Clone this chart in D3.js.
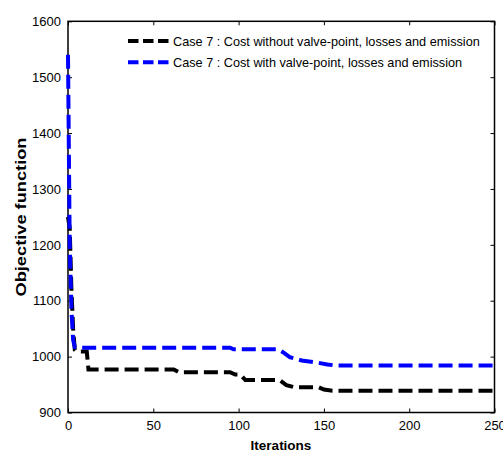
<!DOCTYPE html>
<html>
<head>
<meta charset="utf-8">
<script src="https://cdn.jsdelivr.net/npm/d3@7"></script>
<style>
html,body{margin:0;padding:0;background:#fff;}
svg{display:block;font-family:"Liberation Sans",Arial,sans-serif;}
</style>
</head>
<body>
<svg id="chart" width="503" height="452"></svg>
<script>
// ---- data ----
const xTicks = [0, 50, 100, 150, 200, 250];
const yTicks = [900, 1000, 1100, 1200, 1300, 1400, 1500, 1600];
const seriesNames = [
  "Case 7 : Cost without valve-point, losses and emission",
  "Case 7 : Cost with valve-point, losses and emission"
];
const blackIter = [0, 1, 2, 3, 4, 5, 11, 12, 62, 65, 95, 98, 101, 104, 124, 128, 133, 147, 150, 155, 250];
const blackCost = [1250, 1230, 1120, 1050, 1012, 1009, 1009, 977, 977, 972, 972, 968, 968, 958, 958, 949, 945, 945, 941, 939, 939];
const blueIter = [0, 1, 2, 3, 4, 5, 95, 97, 123, 126, 130, 137, 145, 152, 157, 250];
const blueCost = [1540, 1200, 1085, 1030, 1017, 1016, 1016, 1013, 1013, 1008, 999, 993, 990, 986, 984, 984];
const seriesColors = ["#000000", "#0000ff"];

// ---- layout ----
const svg = d3.select("#chart");
const L = 68, R = 494.5, T = 21.3, B = 412.5;
const x = d3.scaleLinear().domain([0, 250]).range([L, R]);
const y = d3.scaleLinear().domain([900, 1600]).range([B, T]);
const fmt = d3.format("d");

// axes (ticks inward)
const tk = 4;
svg.append("g").attr("transform", `translate(0,${B})`)
  .call(d3.axisBottom(x).tickValues(xTicks).tickFormat(fmt).tickSizeInner(-tk).tickSizeOuter(0).tickPadding(8))
  .call(g => { g.select(".domain").remove(); g.selectAll("text").attr("font-size", 13).attr("fill", "#000").attr("font-family", "Liberation Sans, Arial"); });
svg.append("g").attr("transform", `translate(0,${T})`)
  .call(d3.axisTop(x).tickValues(xTicks).tickSizeInner(-tk).tickSizeOuter(0).tickFormat(""))
  .call(g => g.select(".domain").remove());
svg.append("g").attr("transform", `translate(${L},0)`)
  .call(d3.axisLeft(y).tickValues(yTicks).tickFormat(fmt).tickSizeInner(-tk).tickSizeOuter(0).tickPadding(7))
  .call(g => { g.select(".domain").remove(); g.selectAll("text").attr("font-size", 13).attr("fill", "#000").attr("font-family", "Liberation Sans, Arial"); });
svg.append("g").attr("transform", `translate(${R},0)`)
  .call(d3.axisRight(y).tickValues(yTicks).tickSizeInner(-tk).tickSizeOuter(0).tickFormat(""))
  .call(g => g.select(".domain").remove());

svg.append("rect").attr("x", L).attr("y", T).attr("width", R - L).attr("height", B - T)
  .attr("fill", "none").attr("stroke", "#000").attr("stroke-width", 1.5);

// lines
const series = [
  blackIter.map((d, i) => [d, blackCost[i]]),
  blueIter.map((d, i) => [d, blueCost[i]])
];
const line = d3.line().x(d => x(d[0])).y(d => y(d[1]));
series.forEach((s, i) => {
  svg.append("path").datum(s).attr("d", line)
    .attr("fill", "none").attr("stroke", seriesColors[i]).attr("stroke-width", 4)
    .attr("stroke-dasharray", "14,6");
});

// legend
const lg = svg.append("g");
seriesNames.forEach((n, i) => {
  const yy = 41 + i * 21.3;
  lg.append("line").attr("x1", 128).attr("x2", 168.5).attr("y1", yy).attr("y2", yy)
    .attr("stroke", seriesColors[i]).attr("stroke-width", 4).attr("stroke-dasharray", "10.5,4.5");
  lg.append("text").attr("x", 173).attr("y", yy + 4.5).attr("font-size", 12.7).text(n);
});

// axis labels
svg.append("text").attr("x", 281).attr("y", 450).attr("text-anchor", "middle")
  .attr("font-size", 13.5).attr("font-weight", "bold").text("Iterations");
svg.append("text").attr("transform", `translate(26,217) rotate(-90)`).attr("text-anchor", "middle")
  .attr("font-size", 15).attr("font-weight", "bold")
  .attr("textLength", 159).attr("lengthAdjust", "spacingAndGlyphs").text("Objective function");
</script>
</body>
</html>
